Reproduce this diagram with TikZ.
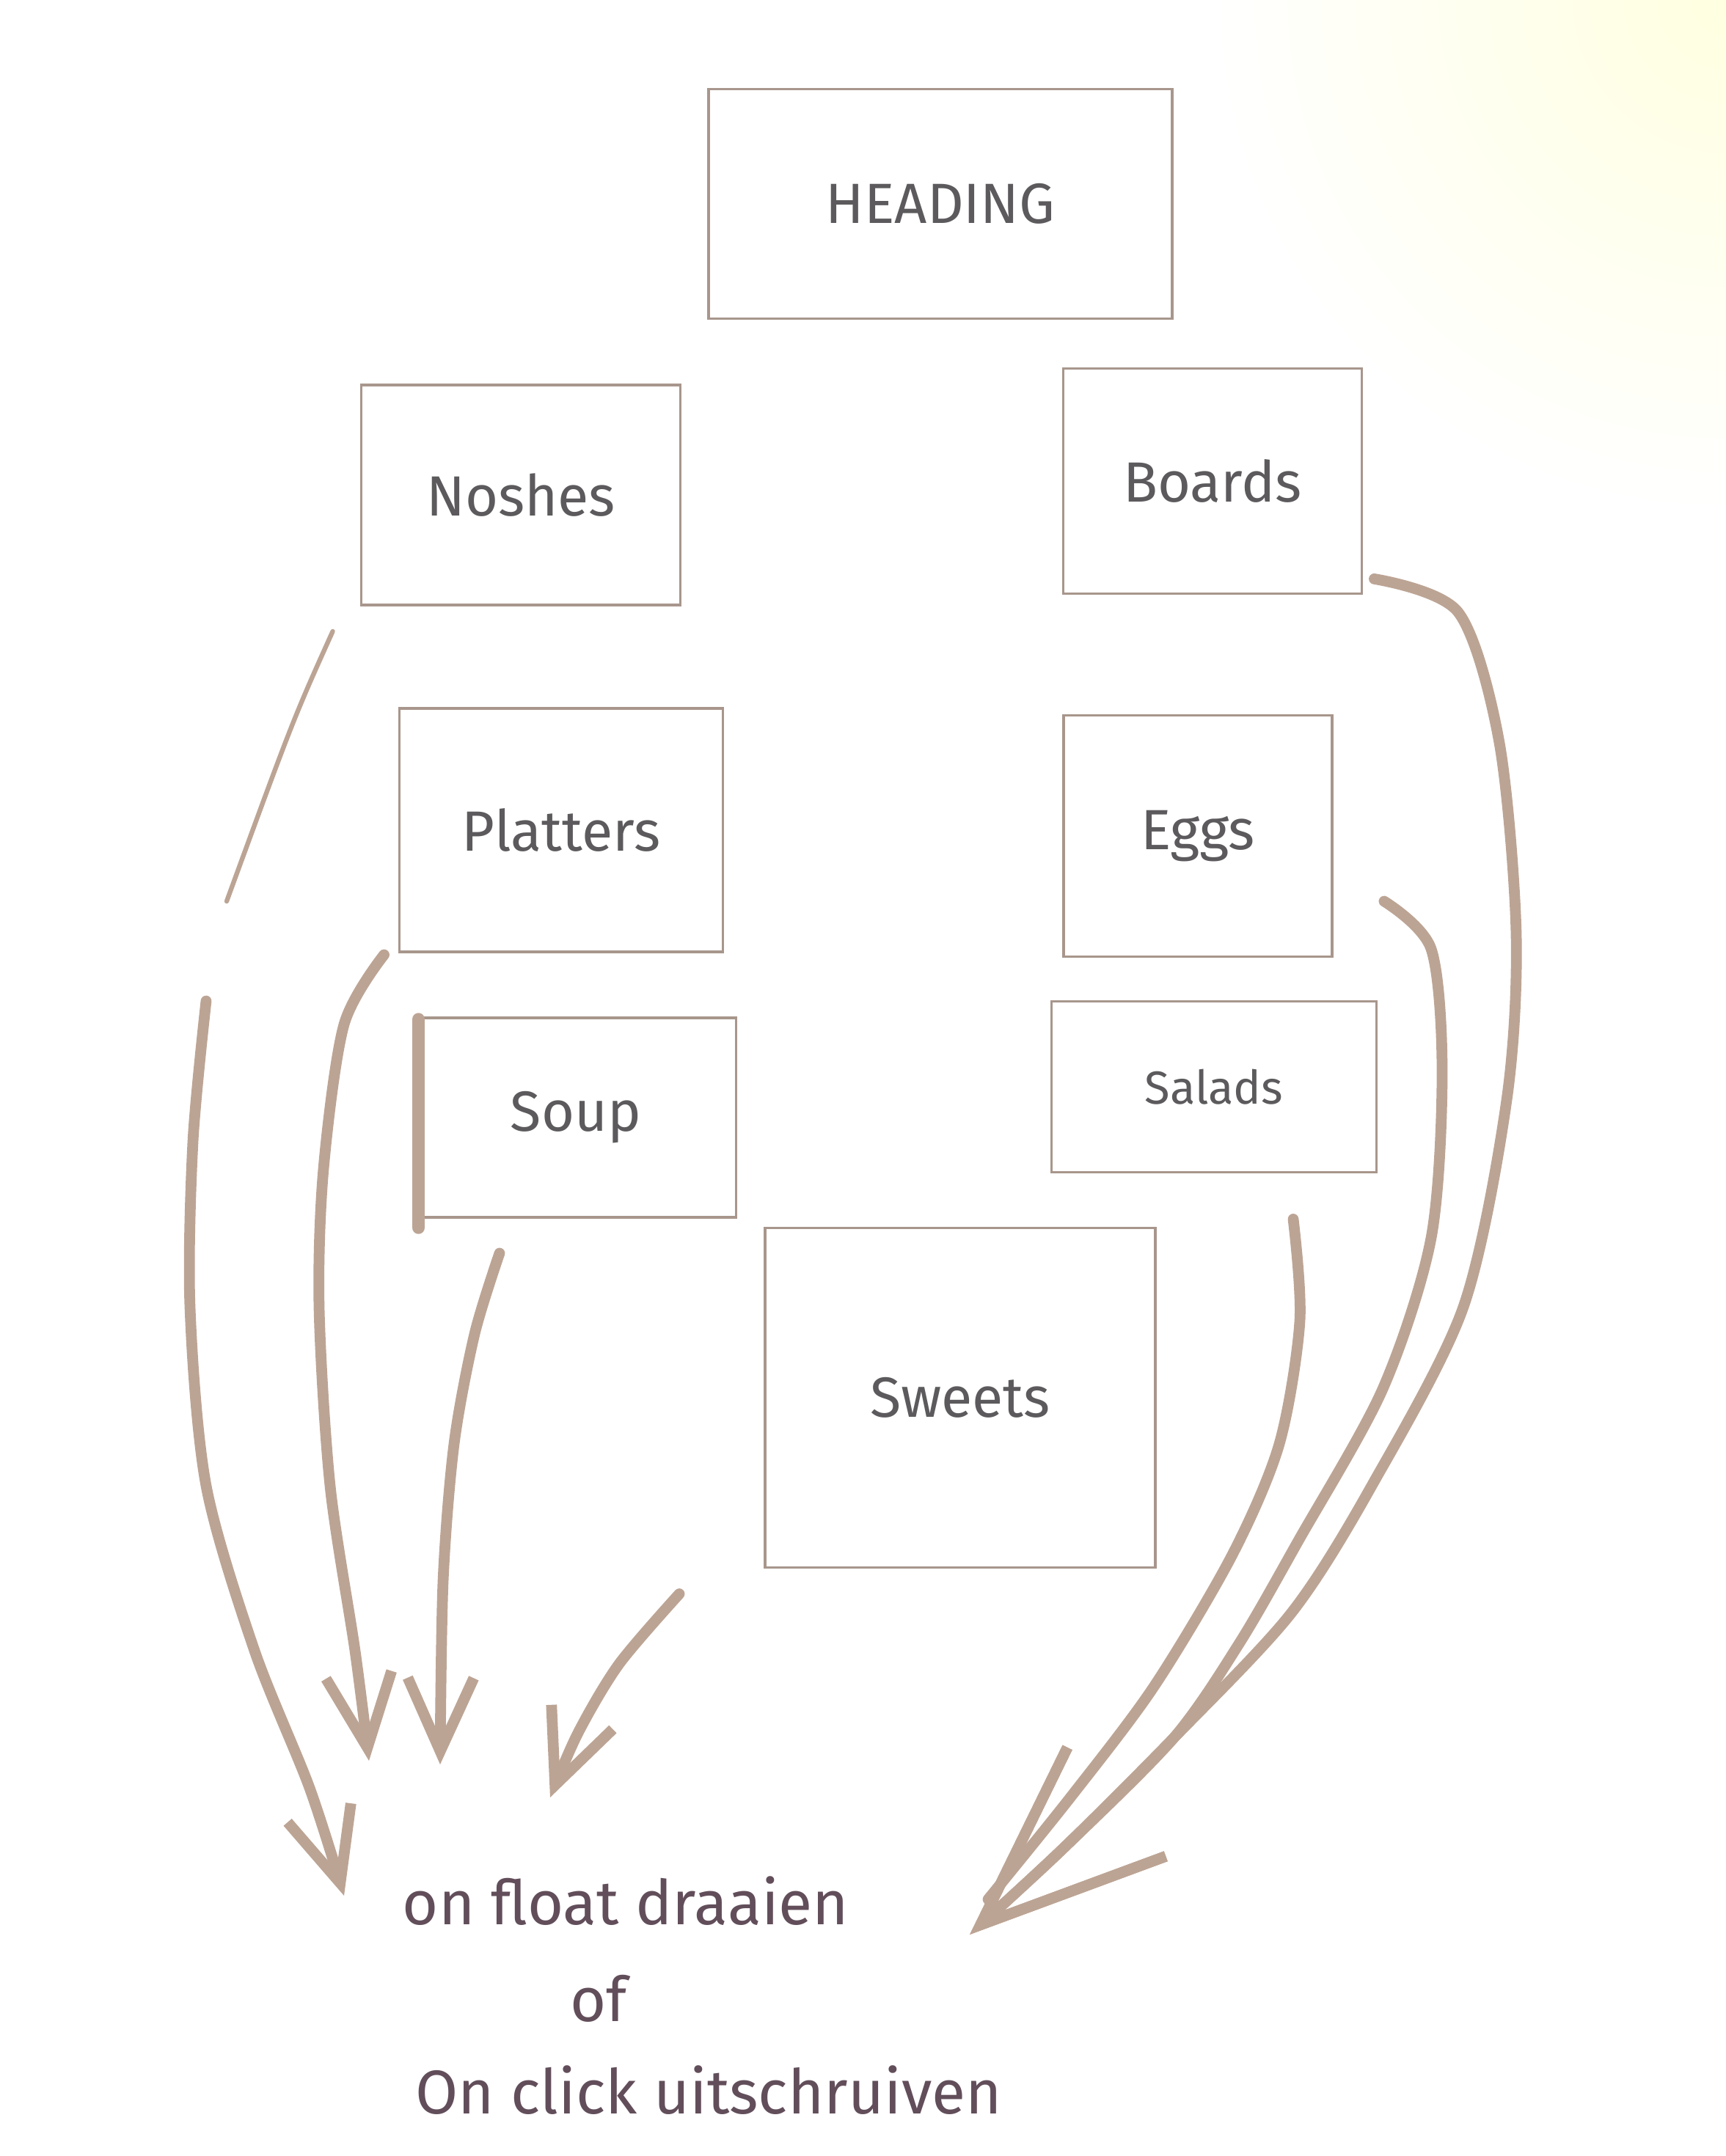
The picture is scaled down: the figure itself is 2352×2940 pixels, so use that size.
\documentclass[tikz,border=0pt]{standalone}
\usepackage{fontspec}
\setmainfont{Fira Sans}
\usetikzlibrary{arrows.meta,calc}

\definecolor{boxline}{RGB}{168,150,140}
\definecolor{marker}{RGB}{188,164,148}
\definecolor{pencil}{RGB}{92,90,92}
\definecolor{penink}{RGB}{98,78,90}

\tikzset{
  card/.style={draw=boxline, line width=1.1pt, text=pencil, font=\fontsize{22}{26}\selectfont},
  stroke/.style={draw=marker, line width=4.2pt, line cap=round, line join=round},
  link/.style={stroke, -{Straight Barb[length=10mm,width=9mm]}},
  bigtip/.style={stroke, -{Straight Barb[length=25mm,width=20mm]}},
  note/.style={text=penink, font=\fontsize{24}{28}\selectfont}
}

\begin{document}
\begin{tikzpicture}[x=0.1mm, y=-0.1mm]

\useasboundingbox (0,0) rectangle (2352,2940);
\fill[white] (0,0) rectangle (2352,2940);
\begin{scope}
\clip (0,0) rectangle (2352,2940);
\shade[inner color=yellow!12!white, outer color=white] (2352,0) circle (70mm);
\end{scope}

% boxes
\node[card, minimum width=63.2mm, minimum height=31.3mm] (heading) at (1282,278) {HEADING};
\node[card, minimum width=43.5mm, minimum height=30mm] (noshes) at (710,675) {Noshes};
\node[card, minimum width=40.7mm, minimum height=30.7mm] (boards) at (1653,656) {Boards};
\node[card, minimum width=44.1mm, minimum height=33.2mm] (platters) at (765,1132) {Platters};
\node[card, minimum width=36.6mm, minimum height=32.9mm] (eggs) at (1633,1140) {Eggs};
\node[card, minimum width=43.7mm, minimum height=27.2mm] (soup) at (785,1524) {Soup};
\node[card, minimum width=44.3mm, minimum height=23.3mm, font=\fontsize{18}{21}\selectfont] (salads) at (1655,1482) {Salads};
\node[card, minimum width=53.2mm, minimum height=46.3mm] (sweets) at (1309,1906) {Sweets};

\draw[stroke, line width=5pt] ($(soup.north west)+(6,4)$) -- ($(soup.south west)+(6,12)$);

% text at the bottom
\node[note] (hover) at (853,2592) {on float draaien};
\node[note] (orword) at (816,2725) {of};
\node[note] (click) at (966,2850) {On click uitschruiven};

% free ends
\coordinate (nosOut) at ($(noshes.south west)+(-37,34)$);
\coordinate (nosGap) at (281,1365);
\coordinate (platOut) at ($(platters.south west)+(-19,2)$);
\coordinate (soupOut) at ($(soup.south)+(-104,47)$);
\coordinate (sweetOut) at ($(sweets.south west)+(-115,34)$);
\coordinate (boardOut) at ($(boards.south east)+(15,-22)$);
\coordinate (eggOut) at ($(eggs.east)+(69,89)$);
\coordinate (saladOut) at ($(salads.south)+(108,62)$);
\coordinate (tipA) at (469,2585);
\coordinate (tipB) at (503,2401);
\coordinate (tipC) at (600,2406);
\coordinate (tipD) at (750,2451);
\coordinate (tipR) at (1322,2638);
\coordinate (saladEnd) at (1347,2590);

% left arrows
\draw[stroke, line width=1.8pt] (nosOut) .. controls (400,980) .. (309,1229);
\draw[link] plot[smooth] coordinates {(nosGap) (263,1557) (259,1782) (281,2026) (347,2251) (422,2438) (tipA)};
\draw[link] plot[smooth] coordinates {(platOut) (469,1397) (441,1594) (435,1782) (450,2026) (484,2251) (tipB)};
\draw[link] plot[smooth] coordinates {(soupOut) (647,1819) (619,1969) (604,2157) (tipC)};
\draw[link] plot[smooth] coordinates {(sweetOut) (844,2269) (788,2363) (tipD)};

% right arrows
\draw[bigtip] plot[smooth] coordinates {(boardOut) (1988,835) (2044,1013) (2067,1275) (2054,1500) (1995,1782) (1870,2026) (1760,2200) (1600,2370) (1450,2520) (tipR)};
\draw[bigtip] plot[smooth] coordinates {(eggOut) (1951,1294) (1966,1463) (1951,1688) (1885,1894) (1770,2101) (1690,2240) (1600,2370) (1450,2520) (tipR)};
\draw[stroke] plot[smooth] coordinates {(saladOut) (1772,1801) (1744,1969) (1680,2120) (1573,2300) (1460,2450) (saladEnd)};

\end{tikzpicture}
\end{document}
